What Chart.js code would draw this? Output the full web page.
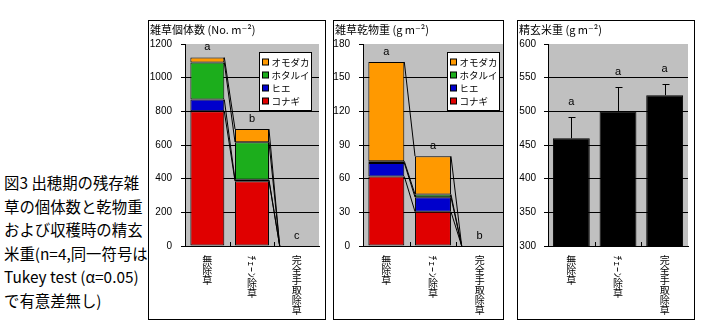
<!DOCTYPE html>
<html>
<head>
<meta charset="utf-8">
<script src="https://cdn.jsdelivr.net/npm/chart.js@4.4.0/dist/chart.umd.min.js"></script>
<style>
  body { margin: 0; background: #fff; width: 703px; height: 326px; position: relative; overflow: hidden;
         font-family: "Noto Sans CJK JP", sans-serif; color: #000; }
  .panel { position: absolute; top: 20px; height: 300px; border: 1px solid #000; box-sizing: border-box; background: #fff; }
  .panel canvas { display: block; }
  #caption { position: absolute; left: 4px; top: 171px; font-size: 15.4px; line-height: 23.5px; white-space: pre; }
</style>
</head>
<body>
<div id="caption">図3 出穂期の残存雑
草の個体数と乾物重
および収穫時の精玄
米重(n=4,同一符号は
Tukey test (α=0.05)
で有意差無し)</div>
<div class="panel" style="left:148px;width:178px"><canvas id="cDensity" width="176" height="298"></canvas></div>
<div class="panel" style="left:333px;width:171px"><canvas id="cDry" width="169" height="298"></canvas></div>
<div class="panel" style="left:517px;width:178px"><canvas id="cRice" width="176" height="298"></canvas></div>

<script>
// Weeding treatments (x categories)
const treatments = ['無除草', 'ﾁｪｰﾝ除草', '完全手取除草'];
// Weed species, bottom to top of each stack
const species = ['コナギ', 'ヒエ', 'ホタルイ', 'オモダカ'];

// Remaining weed density at heading (No. m-2)
const densityKonagi   = [800, 385, 0];
const densityHie      = [70, 8, 0];
const densityHotarui  = [220, 224, 0];
const densityOmodaka  = [30, 78, 0];
const densityLetters  = ['a', 'b', 'c'];

// Remaining weed dry weight at heading (g m-2)
const dryKonagi   = [62, 30.5, 0];
const dryHie      = [12, 13, 0];
const dryHotarui  = [1.5, 2.5, 0];
const dryOmodaka  = [88.5, 34, 0];
const dryLetters  = ['a', 'a', 'b'];

// Brown rice weight at harvest (g m-2) with standard deviation
const riceWeight  = [460, 500, 524];
const riceSD      = [32, 36, 16];
const riceLetters = ['a', 'a', 'a'];

// Axis ranges
const densityAxis = { min: 0, max: 1200, step: 200 };
const dryAxis     = { min: 0, max: 180, step: 30 };
const riceAxis    = { min: 300, max: 600, step: 50 };

const speciesColors = ['#E00000', '#0000CC', '#1CAE1C', '#FF9900'];
const JP = '"Noto Sans CJK JP", "DejaVu Sans", sans-serif';
const SANS = '"Liberation Sans", Arial, sans-serif';

// Gray plot background
const plotBackground = {
  id: 'plotBackground',
  beforeDraw(chart) {
    const { ctx, chartArea: a } = chart;
    ctx.save();
    ctx.fillStyle = '#C0C0C0';
    ctx.fillRect(a.left, a.top, a.right - a.left, a.bottom - a.top);
    ctx.restore();
  }
};

// Panel heading, vertical category labels and inner boundary ticks
const panelDecor = {
  id: 'panelDecor',
  afterDraw(chart, args, opts) {
    const { ctx, chartArea: a } = chart;
    const xs = chart.scales.x;
    ctx.save();
    ctx.fillStyle = '#000';
    ctx.font = '11px ' + JP;
    ctx.textAlign = 'left';
    ctx.textBaseline = 'middle';
    ctx.fillText(opts.heading, 1, 9);

    // boundary ticks between categories
    ctx.strokeStyle = '#000';
    ctx.lineWidth = 1;
    ctx.beginPath();
    for (let i = 1; i < treatments.length; i++) {
      const bx = Math.round((xs.getPixelForValue(i - 1) + xs.getPixelForValue(i)) / 2) + 0.5;
      ctx.moveTo(bx, a.bottom);
      ctx.lineTo(bx, a.bottom - 4);
    }
    ctx.stroke();

    // vertical (tategaki) category labels
    const fs = 10;
    ctx.font = fs + 'px ' + JP;
    treatments.forEach((label, i) => {
      const x = xs.getPixelForValue(i);
      let y = a.bottom + 9;
      for (const ch of label) {
        const code = ch.charCodeAt(0);
        const half = code < 0x3000 || (code >= 0xFF61 && code <= 0xFF9F);
        ctx.textAlign = 'center';
        ctx.textBaseline = 'middle';
        if (half) {
          const w = ctx.measureText(ch).width * 1.15;
          ctx.save();
          ctx.translate(x, y + w / 2);
          ctx.rotate(Math.PI / 2);
          ctx.fillText(ch, 0, 0);
          ctx.restore();
          y += w;
        } else {
          ctx.fillText(ch, x, y + fs / 2);
          y += fs;
        }
      }
    });
    ctx.restore();
  }
};

// Series lines joining the stacked segments of neighbouring bars
const seriesLines = {
  id: 'seriesLines',
  afterDatasetsDraw(chart, args, opts) {
    if (!opts.enabled) return;
    const { ctx } = chart;
    ctx.save();
    ctx.strokeStyle = '#000';
    ctx.lineWidth = 1;
    ctx.beginPath();
    chart.data.datasets.forEach((ds, d) => {
      const els = chart.getDatasetMeta(d).data;
      for (let i = 0; i < els.length - 1; i++) {
        const p = els[i], q = els[i + 1];
        ctx.moveTo(p.x + p.width / 2, p.y);
        ctx.lineTo(q.x - q.width / 2, q.y);
      }
    });
    ctx.stroke();
    ctx.restore();
  }
};

// Legend box inside the plot area
const insideLegend = {
  id: 'insideLegend',
  afterDraw(chart, args, opts) {
    if (!opts.enabled) return;
    const { ctx, chartArea: a } = chart;
    const w = 52, h = 58;
    const bx = Math.round(a.right - opts.rightGap - w) + 0.5;
    const by = Math.round(a.top + 8) + 0.5;
    ctx.save();
    ctx.fillStyle = '#fff';
    ctx.fillRect(bx, by, w, h);
    ctx.strokeStyle = '#000';
    ctx.lineWidth = 1;
    ctx.strokeRect(bx, by, w, h);
    ctx.font = '9.5px ' + JP;
    ctx.textAlign = 'left';
    ctx.textBaseline = 'middle';
    const dss = chart.data.datasets.slice().reverse();
    dss.forEach((ds, k) => {
      const ry = by + 9.5 + k * 13;
      ctx.fillStyle = ds.backgroundColor;
      ctx.fillRect(bx + 3, Math.round(ry - 3), 6, 6);
      ctx.strokeRect(bx + 3, Math.round(ry - 3), 6, 6);
      ctx.fillStyle = '#000';
      ctx.fillText(ds.label, bx + 12, ry);
    });
    ctx.restore();
  }
};

// Significance letters and error bars
const barNotes = {
  id: 'barNotes',
  afterDatasetsDraw(chart, args, opts) {
    const { ctx } = chart;
    const ys = chart.scales.y;
    const xs = chart.scales.x;
    ctx.save();
    ctx.strokeStyle = '#000';
    ctx.lineWidth = 1;
    if (opts.sd) {
      const els = chart.getDatasetMeta(0).data;
      ctx.beginPath();
      opts.values.forEach((v, i) => {
        const x = Math.round(els[i].x) + 0.5;
        const yt = Math.round(ys.getPixelForValue(v + opts.sd[i])) + 0.5;
        ctx.moveTo(x, ys.getPixelForValue(v));
        ctx.lineTo(x, yt);
        ctx.moveTo(x - 3, yt);
        ctx.lineTo(x + 4, yt);
      });
      ctx.stroke();
    }
    ctx.fillStyle = '#000';
    ctx.font = '11px ' + SANS;
    ctx.textAlign = 'center';
    ctx.textBaseline = 'middle';
    opts.letters.forEach((t, i) => {
      const top = opts.values[i] + (opts.sd ? opts.sd[i] : 0);
      const y = ys.getPixelForValue(top) - (opts.sd ? 15 : 10);
      ctx.fillText(t, xs.getPixelForValue(i), y);
    });
    ctx.restore();
  }
};

function makeChart(id, cfg) {
  const yAxis = cfg.axis;
  return new Chart(document.getElementById(id), {
    type: 'bar',
    data: { labels: treatments, datasets: cfg.datasets },
    plugins: [plotBackground, seriesLines, barNotes, panelDecor, insideLegend],
    options: {
      responsive: false,
      animation: false,
      devicePixelRatio: 1,
      layout: { padding: { top: 23, right: cfg.padRight, bottom: 0, left: 0 } },
      datasets: { bar: { categoryPercentage: 1, barPercentage: cfg.barPct } },
      scales: {
        x: {
          stacked: true,
          grid: { display: false },
          border: { display: true, color: '#000', width: 1 },
          ticks: { display: false },
          afterFit(s) { s.height = 73; }
        },
        y: {
          stacked: true,
          min: yAxis.min, max: yAxis.max,
          ticks: {
            stepSize: yAxis.step, padding: cfg.labelPad, color: '#000',
            font: { family: SANS, size: 10 },
            callback: (v) => String(v)
          },
          grid: {
            color: (c) => (c.tick && c.tick.value === yAxis.max) ? 'rgba(0,0,0,0)' : '#000',
            tickColor: '#000', tickLength: 4, lineWidth: 1, drawTicks: true
          },
          border: { display: true, color: '#000', width: 1 },
          afterFit(s) { s.width = cfg.axisWidth; }
        }
      },
      plugins: {
        legend: { display: false },
        tooltip: { enabled: false },
        title: { display: false },
        panelDecor: { heading: cfg.heading },
        seriesLines: { enabled: cfg.stacked },
        insideLegend: { enabled: cfg.stacked, rightGap: cfg.legendGap || 0 },
        barNotes: { values: cfg.totals, letters: cfg.letters, sd: cfg.sd || null }
      }
    }
  });
}

function stackSets(series) {
  return series.map((vals, k) => ({
    label: species[k],
    data: vals,
    backgroundColor: speciesColors[k],
    borderColor: '#000',
    borderWidth: 1,
    borderSkipped: false
  }));
}

const densitySeries = [densityKonagi, densityHie, densityHotarui, densityOmodaka];
const drySeries = [dryKonagi, dryHie, dryHotarui, dryOmodaka];
const sumOf = (series) => treatments.map((_, i) => series.reduce((s, arr) => s + arr[i], 0));

makeChart('cDensity', {
  heading: '雑草個体数 (No. m⁻²)',
  axis: densityAxis, datasets: stackSets(densitySeries), stacked: true,
  totals: sumOf(densitySeries), letters: densityLetters,
  barPct: 0.76, axisWidth: 36, labelPad: 9, padRight: 6, legendGap: 8
});

makeChart('cDry', {
  heading: '雑草乾物重 (g m⁻²)',
  axis: dryAxis, datasets: stackSets(drySeries), stacked: true,
  totals: sumOf(drySeries), letters: dryLetters,
  barPct: 0.77, axisWidth: 29, labelPad: 9, padRight: 0, legendGap: 4
});

makeChart('cRice', {
  heading: '精玄米重 (g m⁻²)',
  axis: riceAxis,
  datasets: [{ label: '精玄米重', data: riceWeight, backgroundColor: '#000', borderColor: '#000', borderWidth: 1 }],
  stacked: false, totals: riceWeight, letters: riceLetters, sd: riceSD,
  barPct: 0.79, axisWidth: 30, labelPad: 8, padRight: 6
});
</script>
</body>
</html>
